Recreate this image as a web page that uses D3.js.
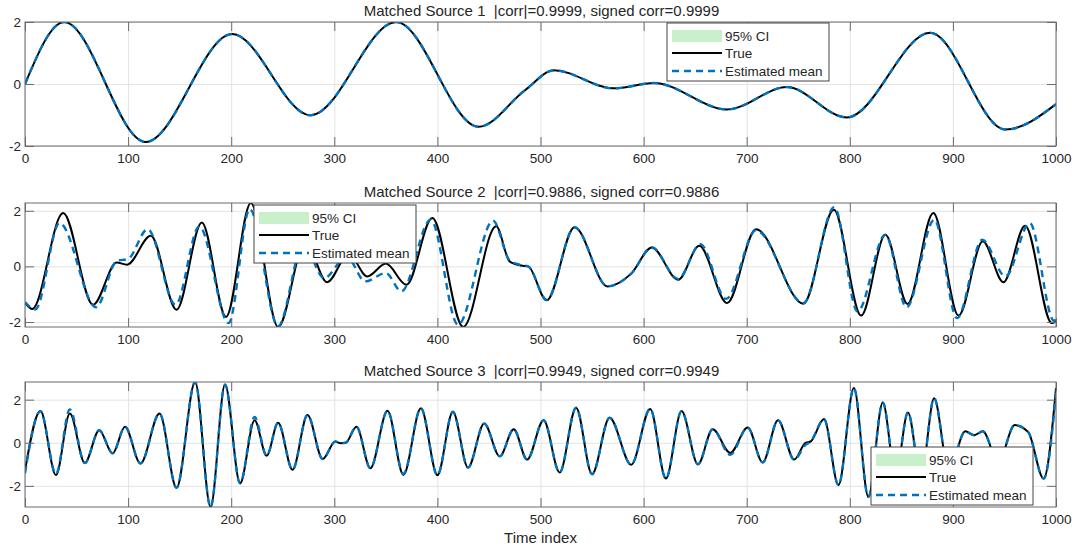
<!DOCTYPE html>
<html>
<head>
<meta charset="utf-8">
<script src="https://cdn.jsdelivr.net/npm/d3@7"></script>
<style>
  html, body { margin: 0; padding: 0; background: #fff; }
  svg text { font-family: "Liberation Sans", Arial, Helvetica, sans-serif; fill: #262626; }
</style>
</head>
<body>
<svg id="chart" width="1075" height="548"></svg>
<script>
// ---- data ----
const xTicks = [0, 100, 200, 300, 400, 500, 600, 700, 800, 900, 1000];
const yTicks = [-2, 0, 2];
const titles = [
  "Matched Source 1  |corr|=0.9999, signed corr=0.9999",
  "Matched Source 2  |corr|=0.9886, signed corr=0.9886",
  "Matched Source 3  |corr|=0.9949, signed corr=0.9949"
];
const legendLabels = ["95% CI", "True", "Estimated mean"];

// source 1 (true and estimate overlap)
const s1Time = [0, 38, 117, 201, 277, 360, 440, 485, 513, 571, 610, 681, 739, 797, 878, 951, 1000];
const s1True = [0, 2.0, -1.87, 1.61, -1.01, 2.0, -1.38, -0.2, 0.44, -0.14, 0.03, -0.82, -0.1, -1.08, 1.65, -1.47, -0.65];
const s1Est  = [0, 2.0, -1.87, 1.61, -1.01, 2.0, -1.38, -0.2, 0.44, -0.14, 0.03, -0.82, -0.1, -1.08, 1.65, -1.47, -0.65];

// source 2
const s2TrueTime = [0, 7, 37, 66, 89, 99, 122, 147, 171.5, 195,
  219, 245.5, 272, 293, 314, 332, 350, 370, 395, 425,
  457, 470, 481, 488, 506, 533, 565, 588, 608, 633.5,
  654, 681, 709, 755, 784.5, 811, 834.5, 856, 881, 905.5,
  929, 949, 970, 996, 1000];
const s2True = [-1.3, -1.53, 1.92, -1.38, 0.14, 0.06, 1.10, -1.56, 1.58, -1.82,
  2.28, -2.18, 0.9, -0.57, 0.45, -0.36, 0.1, -0.66, 1.74, -2.18,
  1.44, 0.18, 0.03, 0.0, -1.22, 1.41, -0.72, -0.26, 0.68, -0.48,
  0.74, -1.32, 1.34, -1.34, 2.04, -1.77, 1.14, -1.35, 1.92, -1.77,
  0.9, -0.57, 1.46, -2.04, -1.98];
const s2EstTime = [0, 10, 33.5, 69, 89, 100, 119, 146, 169, 197.5,
  218, 245.5, 270, 290, 312, 330, 350, 365, 393.5, 420,
  454, 470, 481, 488, 506, 533, 565, 588, 608, 633.5,
  655, 680, 709, 755, 785, 807.5, 834.5, 855, 882, 904,
  928.5, 951, 974.5, 998, 1000];
const s2Est = [-1.28, -1.55, 1.56, -1.47, 0.2, 0.27, 1.34, -1.38, 1.44, -2.04,
  2.06, -2.15, 0.8, -0.42, 0.35, -0.54, -0.24, -0.9, 1.68, -2.1,
  1.64, 0.22, 0.05, 0.0, -1.2, 1.41, -0.72, -0.26, 0.68, -0.45,
  0.8, -1.17, 1.3, -1.32, 2.13, -1.62, 1.14, -1.47, 1.68, -1.86,
  0.96, -0.36, 1.56, -1.95, -1.92];

// source 3
const s3Time = [0, 15, 30, 43.5, 58, 72, 85, 97, 112, 130.5,
  147, 165, 180, 194, 208.6, 222.7, 234.4, 245.5, 259.5, 274,
  288.7, 301, 306, 311, 321.5, 335, 351.6, 367, 384, 400,
  415, 429.7, 445.4, 460.5, 474, 487, 503, 518.6, 534.5, 550,
  567, 588, 606.4, 621.6, 636.8, 652.7, 667, 684, 701, 715.5,
  730.4, 746, 757, 762, 775, 789, 804, 818, 832, 844.5,
  856.4, 869, 881.8, 896, 912, 920.6, 929, 944, 960, 973,
  988, 1000];
const s3True = [-1.3, 1.47, -1.5, 1.36, -0.94, 0.58, -0.49, 0.74, -0.96, 1.36,
  -2.09, 2.82, -2.98, 2.7, -1.88, 1.05, -0.6, 0.93, -1.25, 1.29,
  -0.75, 0.06, -0.02, 0.0, 0.74, -1.18, 1.49, -1.49, 1.6, -1.5,
  1.44, -1.15, 0.89, -0.63, 0.63, -0.78, 1.05, -1.38, 1.63, -1.46,
  1.16, -1.02, 1.57, -1.66, 1.47, -1.0, 0.63, -0.47, 0.71, -0.91,
  1.05, -0.78, 0.0, 0.06, 1.1, -1.96, 2.54, -2.51, 1.87, -1.5,
  1.41, -1.6, 2.07, -1.3, 0.53, 0.35, 0.53, -0.9, 0.82, 0.5,
  -1.66, 2.54];
const s3Est = [-1.42, 1.47, -1.45, 1.55, -0.94, 0.58, -0.49, 0.74, -0.96, 1.36,
  -2.09, 2.82, -2.98, 2.7, -1.88, 1.2, -0.6, 0.93, -1.25, 1.29,
  -0.75, 0.06, -0.02, 0.0, 0.74, -1.18, 1.49, -1.45, 1.6, -1.5,
  1.44, -1.15, 0.89, -0.63, 0.63, -0.78, 1.05, -1.38, 1.63, -1.46,
  1.16, -1.02, 1.57, -1.66, 1.47, -1.0, 0.63, -0.56, 0.71, -0.91,
  1.05, -0.78, -0.1, 0.06, 1.1, -1.96, 2.54, -2.51, 1.87, -1.5,
  1.41, -1.6, 2.07, -1.3, 0.53, 0.35, 0.53, -0.9, 0.82, 0.5,
  -1.66, 2.3];

// ---- layout ----
const panels = [
  { title: titles[0], top: 22, bottom: 146, ylim: [-2, 2],
    trueT: s1Time, trueY: s1True, estT: s1Time, estY: s1Est,
    legend: { x: 667, y: 23 } },
  { title: titles[1], top: 203, bottom: 327, ylim: [-2.18, 2.28],
    trueT: s2TrueTime, trueY: s2True, estT: s2EstTime, estY: s2Est,
    legend: { x: 254, y: 205 } },
  { title: titles[2], top: 382, bottom: 507, ylim: [-2.98, 2.82],
    trueT: s3Time, trueY: s3True, estT: s3Time, estY: s3Est,
    legend: { x: 871, y: 447 } }
];

const left = 25, right = 1056;
const tickLen = 9;
const fmt = d => String(d).replace("\u2212", "-");
const svg = d3.select("#chart");
const x = d3.scaleLinear().domain([0, 1000]).range([left, right]);

panels.forEach((p, i) => {
  const y = d3.scaleLinear().domain(p.ylim).range([p.bottom, p.top]);
  const h = p.bottom - p.top;
  const g = svg.append("g");

  // grid
  g.append("g")
    .attr("transform", `translate(0,${p.bottom})`)
    .call(d3.axisBottom(x).tickValues(xTicks).tickSize(-h).tickFormat(""))
    .call(a => a.select(".domain").remove())
    .selectAll("line").attr("stroke", "#e3e3e3");
  g.append("g")
    .attr("transform", `translate(${left},0)`)
    .call(d3.axisLeft(y).tickValues(yTicks).tickSize(-(right - left)).tickFormat(""))
    .call(a => a.select(".domain").remove())
    .selectAll("line").attr("stroke", "#e3e3e3");

  // lines
  const clipId = "clip" + i;
  svg.append("clipPath").attr("id", clipId)
    .append("rect").attr("x", left).attr("y", p.top).attr("width", right - left).attr("height", h);

  const line = d3.line()
    .x(d => x(d[0]))
    .y(d => y(d[1]))
    .curve(d3.curveMonotoneX);

  const lines = g.append("g").attr("clip-path", `url(#${clipId})`);
  lines.append("path")
    .datum(p.trueT.map((t, k) => [t, p.trueY[k]]))
    .attr("fill", "none")
    .attr("stroke", "#000")
    .attr("stroke-width", 2)
    .attr("d", line);
  lines.append("path")
    .datum(p.estT.map((t, k) => [t, p.estY[k]]))
    .attr("fill", "none")
    .attr("stroke", "#0072BD")
    .attr("stroke-width", 2.4)
    .attr("stroke-dasharray", "7,5")
    .attr("d", line);

  // axes with inside ticks
  const ax = g.append("g");
  ax.append("g")
    .attr("transform", `translate(0,${p.bottom})`)
    .call(d3.axisBottom(x).tickValues(xTicks).tickFormat(fmt).tickSize(-tickLen).tickSizeOuter(0).tickPadding(7))
    .call(a => a.select(".domain").remove());
  ax.append("g")
    .attr("transform", `translate(0,${p.top})`)
    .call(d3.axisTop(x).tickValues(xTicks).tickSize(-tickLen).tickSizeOuter(0).tickFormat(""))
    .call(a => a.select(".domain").remove());
  ax.append("g")
    .attr("transform", `translate(${left},0)`)
    .call(d3.axisLeft(y).tickValues(yTicks).tickFormat(fmt).tickSize(-tickLen).tickSizeOuter(0).tickPadding(4))
    .call(a => a.select(".domain").remove());
  ax.append("g")
    .attr("transform", `translate(${right},0)`)
    .call(d3.axisRight(y).tickValues(yTicks).tickSize(-tickLen).tickSizeOuter(0).tickFormat(""))
    .call(a => a.select(".domain").remove());
  ax.selectAll("g").attr("font-family", null).attr("font-size", 13.5);
  ax.selectAll(".tick line").attr("stroke", "#6b6b6b");
  ax.selectAll(".tick text").attr("fill", "#262626");

  g.append("rect")
    .attr("x", left).attr("y", p.top)
    .attr("width", right - left).attr("height", h)
    .attr("fill", "none").attr("stroke", "#6b6b6b").attr("stroke-width", 1);

  // title
  g.append("text")
    .attr("x", (left + right) / 2 + 1).attr("y", p.top - 6)
    .attr("text-anchor", "middle")
    .attr("font-size", 15)
    .style("white-space", "pre")
    .text(p.title);

  // legend
  const lg = g.append("g").attr("transform", `translate(${p.legend.x},${p.legend.y})`);
  lg.append("rect").attr("width", 162).attr("height", 58)
    .attr("fill", "#fff").attr("stroke", "#444").attr("stroke-width", 1);
  lg.append("rect").attr("x", 5).attr("y", 7).attr("width", 50).attr("height", 12)
    .attr("fill", "#c9efcb");
  lg.append("line").attr("x1", 5).attr("x2", 55).attr("y1", 30).attr("y2", 30)
    .attr("stroke", "#000").attr("stroke-width", 2);
  lg.append("line").attr("x1", 5).attr("x2", 55).attr("y1", 48).attr("y2", 48)
    .attr("stroke", "#0072BD").attr("stroke-width", 2.4).attr("stroke-dasharray", "7,5");
  lg.selectAll("text.lbl")
    .data(legendLabels)
    .join("text")
    .attr("class", "lbl")
    .attr("x", 58)
    .attr("y", (d, k) => [13, 30, 48][k])
    .attr("dy", "0.35em")
    .attr("font-size", 13.5)
    .text(d => d);
});

svg.append("text")
  .attr("x", (left + right) / 2).attr("y", 543)
  .attr("text-anchor", "middle")
  .attr("font-size", 15)
  .text("Time index");
</script>
</body>
</html>
